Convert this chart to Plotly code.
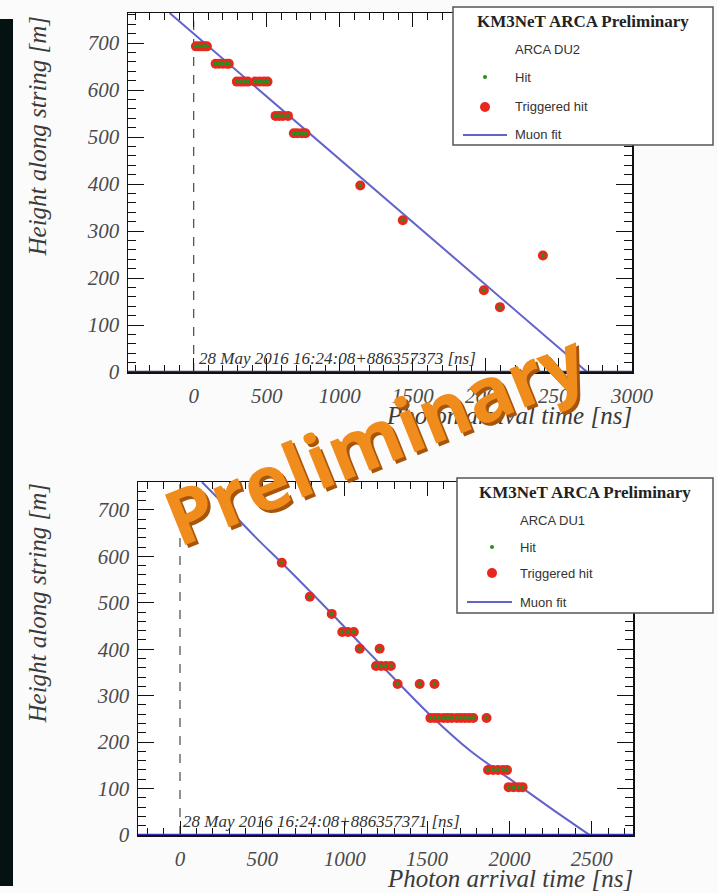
import plotly.graph_objects as go

W, H = 718, 893

# ---------------- data ----------------
# ARCA DU2 (top panel): photon arrival time [ns] and height along string [m]
du2_time = [15, 35, 55, 75, 90,
            150, 175, 200, 225, 240,
            295, 320, 345, 370, 420, 450, 480, 505,
            560, 585, 610, 645,
            685, 710, 740, 765,
            1140, 1431, 1986, 2096, 2390]
du2_height = [693, 693, 693, 693, 693,
              656, 656, 656, 656, 656,
              618, 618, 618, 618, 618, 618, 618, 618,
              545, 545, 545, 545,
              508, 508, 508, 508,
              397, 323, 174, 138, 248]
du2_fit_time = [-165, 2692]
du2_fit_height = [764, 0]

# ARCA DU1 (bottom panel)
du1_time = [618, 788, 921,
            985, 1020, 1055,
            1091, 1212,
            1190, 1220, 1250, 1280,
            1321, 1455, 1545,
            1520, 1545, 1570, 1600, 1625, 1650, 1680, 1705, 1730, 1755, 1780, 1861,
            1870, 1900, 1930, 1960, 1985,
            1995, 2025, 2055, 2080]
du1_height = [586, 513, 476,
              437, 437, 437,
              401, 401,
              364, 364, 364, 364,
              325, 325, 325,
              252, 252, 252, 252, 252, 252, 252, 252, 252, 252, 252, 252,
              140, 140, 140, 140, 140,
              103, 103, 103, 103]
du1_fit_time = [133, 255, 470, 620, 920, 1100, 1300, 1520, 1760, 2020, 2250, 2487]
du1_fit_height = [760, 716, 637, 585, 477, 410, 337, 258, 182, 116, 58, 0]

t0_time = [0, 0]
top_range_x = [-450, 3000]
top_range_y = [0, 764]
bot_range_x = [-255, 2750]
bot_range_y = [0, 760]

x_ticks_top = [0, 500, 1000, 1500, 2000, 2500, 3000]
x_ticks_bot = [0, 500, 1000, 1500, 2000, 2500]
y_ticks = [0, 100, 200, 300, 400, 500, 600, 700]

RED = "#e8281e"
GREEN = "#2e8b20"
BLUE = "#6262cc"

def px(x):
    return x / W

def py(y):
    return 1 - y / H

fig = go.Figure()

def add_panel(t, z, ft, fz, xa, ya, ytop):
    fig.add_trace(go.Scatter(x=t0_time, y=[0, ytop], mode="lines",
                             line=dict(color="#222", width=1, dash="dash"),
                             xaxis=xa, yaxis=ya, showlegend=False, hoverinfo="skip"))
    fig.add_trace(go.Scatter(x=ft, y=fz, mode="lines", line=dict(color=BLUE, width=2, shape="spline"),
                             xaxis=xa, yaxis=ya, showlegend=False))
    fig.add_trace(go.Scatter(x=t, y=z, mode="markers",
                             marker=dict(color=RED, size=10, line=dict(width=0)),
                             xaxis=xa, yaxis=ya, showlegend=False))
    fig.add_trace(go.Scatter(x=t, y=z, mode="markers",
                             marker=dict(color=GREEN, size=4, line=dict(width=0)),
                             xaxis=xa, yaxis=ya, showlegend=False))

add_panel(du2_time, du2_height, du2_fit_time, du2_fit_height, "x", "y", top_range_y[1])
add_panel(du1_time, du1_height, du1_fit_time, du1_fit_height, "x2", "y2", bot_range_y[1])

tickfont = dict(family="Liberation Serif", size=21, color="#4a4a4a", style="italic")

def xaxis(domain, rng, ticks, anchor):
    return dict(domain=domain, range=rng, tickvals=ticks, ticks="inside", ticklen=14,
                tickcolor="#111", tickwidth=1, mirror="allticks", showline=True,
                linecolor="#111", linewidth=1.5, showgrid=False, zeroline=False,
                tickfont=tickfont, anchor=anchor, ticklabelstandoff=4, fixedrange=True,
                automargin=False,
                minor=dict(dtick=100, ticks="inside", ticklen=7, tickcolor="#111", showgrid=False))

def yaxis(domain, rng, anchor):
    return dict(domain=domain, range=rng, tickvals=y_ticks, ticks="inside", ticklen=16,
                tickcolor="#111", tickwidth=1, mirror="allticks", showline=True,
                linecolor="#111", linewidth=1.5, showgrid=False, zeroline=False,
                tickfont=tickfont, anchor=anchor, ticklabelstandoff=3, fixedrange=True,
                automargin=False,
                minor=dict(dtick=20, ticks="inside", ticklen=8, tickcolor="#111", showgrid=False))

fig.update_layout(
    width=W, height=H, autosize=False,
    margin=dict(l=0, r=0, t=0, b=0, pad=0, autoexpand=False),
    paper_bgcolor="#fbfbfb", plot_bgcolor="#ffffff", showlegend=False,
    xaxis=xaxis([px(128), px(632)], top_range_x, x_ticks_top, "y"),
    yaxis=yaxis([py(372), py(13)], top_range_y, "x"),
    xaxis2=xaxis([px(138), px(633)], bot_range_x, x_ticks_bot, "y2"),
    yaxis2=yaxis([py(835), py(482)], bot_range_y, "x2"),
)

shapes = []
ann = []

# left dark strip of the photographed slide
shapes.append(dict(type="rect", xref="paper", yref="paper", x0=0, x1=px(13), y0=py(886), y1=py(19),
                   fillcolor="#061212", line=dict(width=0), layer="above"))

# blue baseline at height 0
for xr, yr, col in [("x domain", "y", "#2d2d80"), ("x2 domain", "y2", "#3535b8")]:
    shapes.append(dict(type="line", xref=xr, yref=yr, x0=0, x1=1, y0=0, y1=0,
                       line=dict(color=col, width=2.5)))

title_font = dict(family="Liberation Serif", size=25, color="#3a3a3a", style="italic")
date_font = dict(family="Liberation Serif", size=17, color="#333", style="italic")

for ytop in (14, 481):
    ann.append(dict(text="Height along string [m]", xref="paper", yref="paper", x=px(37), y=py(ytop),
                    xanchor="center", yanchor="top", textangle=-90, showarrow=False, font=title_font))
for ymid, xr in ((415, 634), (878, 635)):
    ann.append(dict(text="Photon arrival time [ns]", xref="paper", yref="paper", x=px(xr), y=py(ymid),
                    xanchor="right", yanchor="middle", showarrow=False, font=title_font))

ann.append(dict(text="28 May 2016 16:24:08+886357373 [ns]", xref="paper", yref="paper",
                x=px(197), y=py(358), xanchor="left", yanchor="middle", showarrow=False, font=date_font))
ann.append(dict(text="28 May 2016 16:24:08+886357371 [ns]", xref="paper", yref="paper",
                x=px(181), y=py(821), xanchor="left", yanchor="middle", showarrow=False, font=date_font))

# legends (drawn like the ROOT TLegend boxes)
def legend(x0, x1, y0, y1, du, ytitle, ydu, yhit, ytrig, ymuon, xsym, xl0, xl1, xtext):
    shapes.append(dict(type="rect", xref="paper", yref="paper", x0=px(x0), x1=px(x1), y0=py(y1), y1=py(y0),
                       fillcolor="white", line=dict(color="#555", width=1.5)))
    ann.append(dict(text="<b>KM3NeT ARCA Preliminary</b>", xref="paper", yref="paper",
                    x=px((x0 + x1) / 2), y=py(ytitle), xanchor="center", yanchor="middle", showarrow=False,
                    font=dict(family="Liberation Serif", size=17, color="#222")))
    ent = dict(family="Liberation Sans", size=13, color="#333")
    for txt, yy in ((du, ydu), ("Hit", yhit), ("Triggered hit", ytrig), ("Muon fit", ymuon)):
        ann.append(dict(text=txt, xref="paper", yref="paper", x=px(xtext), y=py(yy),
                        xanchor="left", yanchor="middle", showarrow=False, font=ent))
    shapes.append(dict(type="circle", xref="paper", yref="paper", x0=px(xsym - 2), x1=px(xsym + 2),
                       y0=py(yhit + 2), y1=py(yhit - 2), fillcolor=GREEN, line=dict(width=0)))
    shapes.append(dict(type="circle", xref="paper", yref="paper", x0=px(xsym - 5), x1=px(xsym + 5),
                       y0=py(ytrig + 5), y1=py(ytrig - 5), fillcolor=RED, line=dict(width=0)))
    shapes.append(dict(type="line", xref="paper", yref="paper", x0=px(xl0), x1=px(xl1),
                       y0=py(ymuon), y1=py(ymuon), line=dict(color=BLUE, width=2)))

legend(453, 713, 7, 145, "ARCA DU2", 22, 50, 77, 107, 135, 485, 463, 507, 513)
legend(457, 713, 478, 613, "ARCA DU1", 492, 520, 547, 573, 602, 492, 467, 512, 518)

# orange "Preliminary" stamp with shadow
for dx, dy, col in ((3, 3, "#a8550c"), (0, 0, "#ef8c1c")):
    ann.append(dict(text="<b>Preliminary</b>", xref="paper", yref="paper", x=px(375 + dx), y=py(437 + dy),
                    xanchor="center", yanchor="middle", textangle=-22, showarrow=False,
                    font=dict(family="Open Sans", size=76, color=col)))

fig.update_layout(shapes=shapes, annotations=ann)
fig.write_html("out.html", config={"responsive": False, "staticPlot": True})
